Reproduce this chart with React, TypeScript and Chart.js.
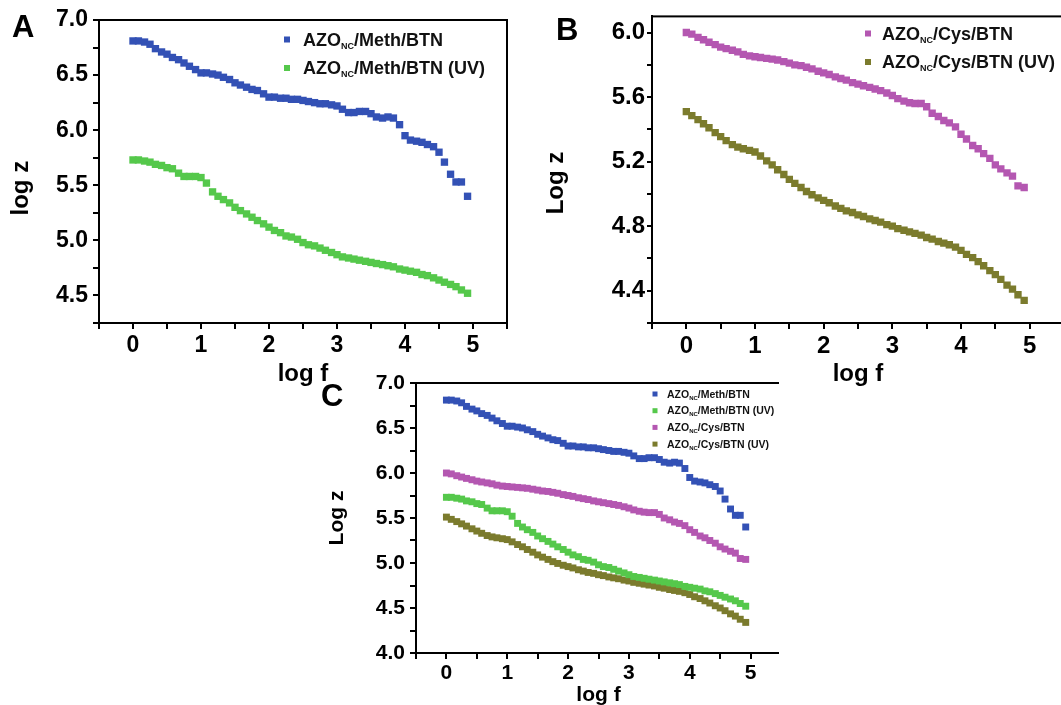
import React, { useEffect, useRef } from 'react';
import { Chart, registerables } from 'chart.js';

Chart.register(...registerables);

const FONT = '"Liberation Sans", Arial, Helvetica, sans-serif';
Chart.defaults.font.family = FONT;

// ---------------- data ----------------
const logF = [
  0, 0.08, 0.17, 0.25, 0.33, 0.42, 0.5, 0.58, 0.67, 0.75, 0.83, 0.92,
  1, 1.08, 1.17, 1.25, 1.33, 1.42, 1.5, 1.58, 1.67, 1.75, 1.83, 1.92,
  2, 2.08, 2.17, 2.25, 2.33, 2.42, 2.5, 2.58, 2.67, 2.75, 2.83, 2.92,
  3, 3.08, 3.17, 3.25, 3.33, 3.42, 3.5, 3.58, 3.67, 3.75, 3.83, 3.92,
  4, 4.08, 4.17, 4.25, 4.33, 4.42, 4.5, 4.58, 4.67, 4.75, 4.83, 4.92,
];

const methBTN = [
  6.81, 6.81, 6.8, 6.78, 6.74, 6.71, 6.69, 6.66, 6.64, 6.61, 6.58, 6.55,
  6.52, 6.52, 6.51, 6.5, 6.48, 6.46, 6.43, 6.41, 6.39, 6.37, 6.36, 6.33,
  6.3, 6.3, 6.29, 6.29, 6.28, 6.28, 6.27, 6.26, 6.25, 6.24, 6.24, 6.23,
  6.22, 6.19, 6.16, 6.16, 6.17, 6.17, 6.15, 6.12, 6.11, 6.12, 6.11, 6.05,
  5.95, 5.91, 5.9, 5.89, 5.87, 5.85, 5.8, 5.71, 5.6, 5.53, 5.53, 5.4,
];

const methBTNUV = [
  5.73, 5.73, 5.72, 5.71, 5.69, 5.68, 5.66, 5.65, 5.61, 5.58, 5.58, 5.58,
  5.57, 5.52, 5.44, 5.4, 5.37, 5.34, 5.3, 5.27, 5.24, 5.21, 5.18, 5.15,
  5.12, 5.09, 5.07, 5.04, 5.03, 5.01, 4.98, 4.96, 4.95, 4.93, 4.91, 4.89,
  4.87, 4.85, 4.84, 4.83, 4.82, 4.81, 4.8, 4.79, 4.78, 4.77, 4.76, 4.74,
  4.73, 4.72, 4.71, 4.69, 4.68, 4.66, 4.64, 4.62, 4.6, 4.58, 4.55, 4.52,
];

const cysBTN = [
  6.0, 5.99, 5.97, 5.955, 5.94, 5.925, 5.91, 5.9, 5.89, 5.88, 5.865, 5.855,
  5.85, 5.845, 5.84, 5.835, 5.83, 5.82, 5.81, 5.8, 5.795, 5.785, 5.775, 5.76,
  5.75, 5.74, 5.725, 5.715, 5.705, 5.69, 5.68, 5.67, 5.66, 5.65, 5.64, 5.625,
  5.61, 5.59, 5.575, 5.565, 5.56, 5.56, 5.54, 5.5, 5.48, 5.455, 5.44, 5.415,
  5.37, 5.34, 5.3, 5.28, 5.25, 5.22, 5.18, 5.155, 5.13, 5.11, 5.05, 5.04,
];

const cysBTNUV = [
  5.51, 5.485, 5.46, 5.435, 5.41, 5.38, 5.355, 5.33, 5.305, 5.29, 5.28, 5.27,
  5.26, 5.235, 5.205, 5.18, 5.15, 5.12, 5.09, 5.065, 5.04, 5.015, 4.995, 4.975,
  4.96, 4.945, 4.925, 4.91, 4.895, 4.885, 4.87, 4.86, 4.845, 4.835, 4.825, 4.81,
  4.8, 4.785, 4.775, 4.765, 4.755, 4.745, 4.73, 4.72, 4.705, 4.695, 4.685, 4.67,
  4.65, 4.625, 4.605, 4.58, 4.555, 4.525, 4.5, 4.47, 4.435, 4.41, 4.375, 4.34,
];

const seriesLabels = [
  'AZO_{NC}/Meth/BTN',
  'AZO_{NC}/Meth/BTN (UV)',
  'AZO_{NC}/Cys/BTN',
  'AZO_{NC}/Cys/BTN (UV)',
];
const seriesColors = ['#3351b5', '#55c84b', '#b457b1', '#7b7b2d'];
const seriesValues = [methBTN, methBTNUV, cysBTN, cysBTNUV];

const xTickValues = [-0.5, 0, 0.5, 1, 1.5, 2, 2.5, 3, 3.5, 4, 4.5, 5, 5.5];
const xTickLabels = ['0', '1', '2', '3', '4', '5'];

const yTickValuesA = [4.25, 4.5, 4.75, 5, 5.25, 5.5, 5.75, 6, 6.25, 6.5, 6.75, 7];
const yTickLabelsA = ['4.5', '5.0', '5.5', '6.0', '6.5', '7.0'];

const yTickValuesB = [4.2, 4.4, 4.6, 4.8, 5.0, 5.2, 5.4, 5.6, 5.8, 6.0];
const yTickLabelsB = ['4.4', '4.8', '5.2', '5.6', '6.0'];

const yTickValuesC = [4, 4.25, 4.5, 4.75, 5, 5.25, 5.5, 5.75, 6, 6.25, 6.5, 6.75, 7];
const yTickLabelsC = ['4.0', '4.5', '5.0', '5.5', '6.0', '6.5', '7.0'];

// ---------------- plugins ----------------
const framePlugin = {
  id: 'frame',
  afterDatasetsDraw(chart: any) {
    const { ctx, chartArea } = chart;
    const { left, top, right, bottom } = chartArea;
    ctx.save();
    ctx.strokeStyle = '#000';
    ctx.lineWidth = 2;
    ctx.strokeRect(left, top, right - left, bottom - top);
    ctx.restore();
  },
};

const subLegendPlugin = {
  id: 'subLegend',
  afterDraw(chart: any, _args: any, opts: any) {
    const ctx = chart.ctx;
    ctx.save();
    chart.data.datasets.forEach((ds: any, i: number) => {
      const cy = opts.y + i * opts.gap;
      ctx.fillStyle = ds.backgroundColor;
      ctx.fillRect(opts.markerX - opts.marker / 2, cy - opts.marker / 2, opts.marker, opts.marker);
      const m = /^(.*)_\{(.*)\}(.*)$/.exec(ds.legendText) || [ds.legendText, ds.legendText, '', ''];
      const base = cy + opts.size * 0.34;
      let tx = opts.textX;
      ctx.fillStyle = '#111';
      ctx.textAlign = 'left';
      ctx.textBaseline = 'alphabetic';
      ctx.font = `bold ${opts.size}px ${FONT}`;
      ctx.fillText(m[1], tx, base);
      tx += ctx.measureText(m[1]).width;
      ctx.font = `bold ${opts.sub}px ${FONT}`;
      ctx.fillText(m[2], tx, base + opts.subShift);
      tx += ctx.measureText(m[2]).width;
      ctx.font = `bold ${opts.size}px ${FONT}`;
      ctx.fillText(m[3], tx, base);
    });
    ctx.restore();
  },
};

// ---------------- panels ----------------
type PanelCfg = {
  left: number; top: number; width: number; height: number; clipW: number; clipH: number;
  pad: { top: number; right: number };
  yAxisWidth: number; xAxisHeight: number;
  series: number[]; radius: number;
  yMin: number; yMax: number; yTicks: number[]; yLabels: string[];
  tickFont: number; titleFont: number;
  xTickLen: number; xTickPad: number; yTickLen: number; yTickPad: number;
  xTitle: string; xTitlePadBottom: number;
  yTitle: string; yTitlePadTop: number;
  legend: { markerX: number; textX: number; y: number; gap: number; size: number; sub: number; subShift: number; marker: number };
};

const panelA: PanelCfg = {
  left: 0, top: 0, width: 520, height: 400, clipW: 520, clipH: 400,
  pad: { top: 20, right: 13 }, yAxisWidth: 99, xAxisHeight: 77,
  series: [0, 1], radius: 5.2,
  yMin: 4.25, yMax: 7.0, yTicks: yTickValuesA, yLabels: yTickLabelsA,
  tickFont: 23, titleFont: 24,
  xTickLen: 6, xTickPad: 3, yTickLen: 6, yTickPad: 5,
  xTitle: 'log f', xTitlePadBottom: 11,
  yTitle: 'log z     ', yTitlePadTop: 6.8,
  legend: { markerX: 287, textX: 303, y: 39.5, gap: 28.5, size: 18, sub: 9, subShift: 3, marker: 6 },
};

const panelB: PanelCfg = {
  left: 520, top: 0, width: 560, height: 400, clipW: 541, clipH: 400,
  pad: { top: 15, right: 16 }, yAxisWidth: 132, xAxisHeight: 77,
  series: [2, 3], radius: 5.2,
  yMin: 4.2, yMax: 6.1, yTicks: yTickValuesB, yLabels: yTickLabelsB,
  tickFont: 24, titleFont: 24,
  xTickLen: 6, xTickPad: 3, yTickLen: 5, yTickPad: 2,
  xTitle: 'log f', xTitlePadBottom: 11,
  yTitle: 'Log z    ', yTitlePadTop: 22,
  legend: { markerX: 348, textX: 362, y: 33.5, gap: 28.5, size: 18, sub: 9, subShift: 3, marker: 6 },
};

const panelC: PanelCfg = {
  left: 320, top: 365, width: 480, height: 350, clipW: 459, clipH: 340,
  pad: { top: 18, right: 19 }, yAxisWidth: 96, xAxisHeight: 62,
  series: [0, 1, 2, 3], radius: 4.9,
  yMin: 4.0, yMax: 7.0, yTicks: yTickValuesC, yLabels: yTickLabelsC,
  tickFont: 21, titleFont: 21,
  xTickLen: 6, xTickPad: 2, yTickLen: 6, yTickPad: 5,
  xTitle: 'log f', xTitlePadBottom: 7.4,
  yTitle: 'Log z', yTitlePadTop: 5,
  legend: { markerX: 335, textX: 347, y: 29, gap: 16.7, size: 10.5, sub: 6, subShift: 2, marker: 5 },
};

function findLabel(labels: string[], v: number): string {
  const l = labels.find((s) => Math.abs(parseFloat(s) - v) < 1e-6);
  return l === undefined ? '' : l;
}

function buildConfig(cfg: PanelCfg): any {
  const font = (size: number) => ({ family: FONT, size, weight: 'bold' as const });
  return {
    type: 'scatter',
    data: {
      datasets: cfg.series.map((i) => ({
        label: seriesLabels[i].replace(/[_{}]/g, ''),
        legendText: seriesLabels[i],
        data: logF.map((x, j) => ({ x, y: seriesValues[i][j] })),
        backgroundColor: seriesColors[i],
        borderColor: seriesColors[i],
        pointStyle: 'rect',
        pointRadius: cfg.radius,
        pointBorderWidth: 0,
        showLine: false,
      })),
    },
    options: {
      animation: false,
      responsive: false,
      devicePixelRatio: 1,
      events: [],
      layout: { padding: { top: cfg.pad.top, right: cfg.pad.right, left: 0, bottom: 0 } },
      plugins: {
        legend: { display: false },
        tooltip: { enabled: false },
        subLegend: cfg.legend,
      },
      scales: {
        x: {
          type: 'linear',
          min: -0.5,
          max: 5.5,
          afterBuildTicks: (s: any) => {
            s.ticks = xTickValues.map((value) => ({ value }));
          },
          afterFit: (s: any) => {
            s.height = cfg.xAxisHeight;
          },
          ticks: {
            autoSkip: false,
            maxRotation: 0,
            padding: cfg.xTickPad,
            color: '#000',
            font: font(cfg.tickFont),
            callback: (v: number) => findLabel(xTickLabels, v),
          },
          grid: {
            drawOnChartArea: false,
            drawTicks: true,
            tickLength: cfg.xTickLen,
            tickWidth: 2,
            tickColor: '#000',
            color: '#000',
            lineWidth: 2,
          },
          border: { display: true, color: '#000', width: 2 },
          title: {
            display: true,
            text: cfg.xTitle,
            color: '#000',
            font: font(cfg.titleFont),
            padding: { top: 0, bottom: cfg.xTitlePadBottom },
          },
        },
        y: {
          type: 'linear',
          min: cfg.yMin,
          max: cfg.yMax,
          afterBuildTicks: (s: any) => {
            s.ticks = cfg.yTicks.map((value) => ({ value }));
          },
          afterFit: (s: any) => {
            s.width = cfg.yAxisWidth;
          },
          ticks: {
            autoSkip: false,
            padding: cfg.yTickPad,
            color: '#000',
            font: font(cfg.tickFont),
            callback: (v: number) => findLabel(cfg.yLabels, v),
          },
          grid: {
            drawOnChartArea: false,
            drawTicks: true,
            tickLength: cfg.yTickLen,
            tickWidth: 2,
            tickColor: '#000',
            color: '#000',
            lineWidth: 2,
          },
          border: { display: true, color: '#000', width: 2 },
          title: {
            display: true,
            text: cfg.yTitle,
            color: '#000',
            font: font(cfg.titleFont),
            padding: { top: cfg.yTitlePadTop, bottom: 0 },
          },
        },
      },
    },
    plugins: [framePlugin, subLegendPlugin],
  };
}

function Panel({ cfg }: { cfg: PanelCfg }) {
  const ref = useRef<HTMLCanvasElement>(null);
  useEffect(() => {
    if (!ref.current) return;
    const chart = new Chart(ref.current, buildConfig(cfg));
    return () => chart.destroy();
  }, [cfg]);
  return (
    <div
      style={{
        position: 'absolute',
        left: cfg.left,
        top: cfg.top,
        width: cfg.clipW,
        height: cfg.clipH,
        overflow: 'hidden',
      }}
    >
      <canvas
        ref={ref}
        width={cfg.width}
        height={cfg.height}
        style={{ display: 'block', width: cfg.width, height: cfg.height }}
      />
    </div>
  );
}

const letterStyle = (left: number, top: number): React.CSSProperties => ({
  position: 'absolute',
  left,
  top,
  font: `bold 31px ${FONT}`,
  lineHeight: '31px',
  color: '#000',
  margin: 0,
});

export default function App() {
  return (
    <div
      style={{
        position: 'absolute',
        left: 0,
        top: 0,
        width: 1061,
        height: 705,
        overflow: 'hidden',
        background: '#fff',
      }}
    >
      <Panel cfg={panelA} />
      <Panel cfg={panelB} />
      <Panel cfg={panelC} />
      <div style={letterStyle(12, 11)}>A</div>
      <div style={letterStyle(556, 14)}>B</div>
      <div style={letterStyle(321, 380)}>C</div>
    </div>
  );
}
